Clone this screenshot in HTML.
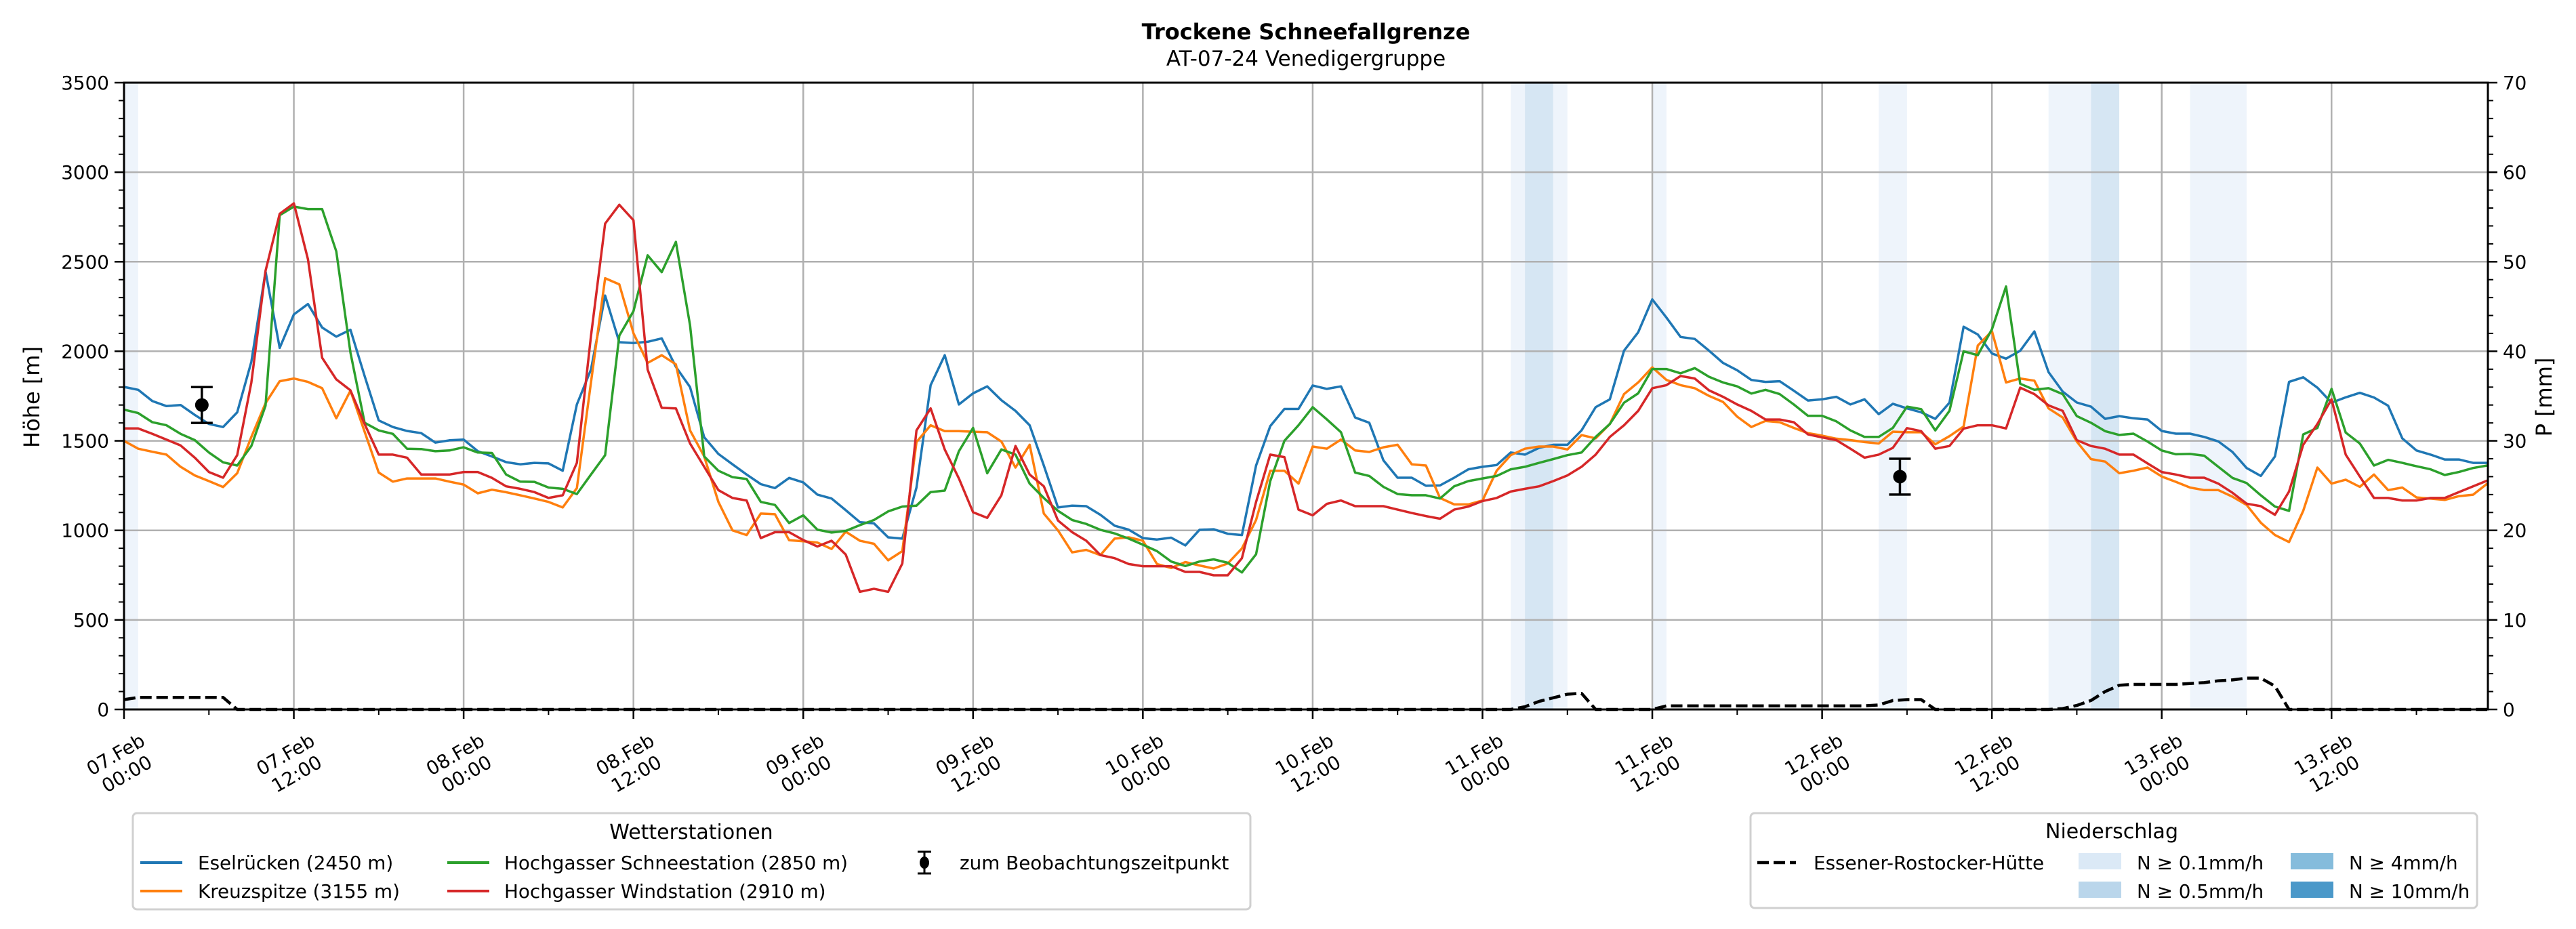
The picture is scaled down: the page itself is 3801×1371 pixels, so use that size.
<!DOCTYPE html>
<html><head><meta charset="utf-8">
<style>
html,body{margin:0;padding:0;background:#fff;}
svg{display:block;font-family:"DejaVu Sans","Liberation Sans",sans-serif;}
</style></head>
<body>
<svg id="chart" xmlns="http://www.w3.org/2000/svg" width="3801" height="1371" viewBox="0 0 3801 1371">
<rect x="0" y="0" width="3801" height="1371" fill="#fff"/>
<text x="1927" y="58" text-anchor="middle" font-weight="bold" font-size="32">Trockene Schneefallgrenze</text>
<text x="1927" y="97" text-anchor="middle" font-size="31">AT-07-24 Venedigergruppe</text>
<g id="bands"></g>
<g id="grid"></g>
<g id="series"></g>
<g id="axes"></g>
<text transform="translate(58,586) rotate(-90)" text-anchor="middle" font-size="32">Höhe [m]</text>
<text transform="translate(3765,586) rotate(-90)" text-anchor="middle" font-size="32">P [mm]</text>

<g>
<rect x="196" y="1200" width="1649" height="142" rx="6" fill="#fff" stroke="#d0d0d0" stroke-width="3"/>
<text x="1020" y="1238" text-anchor="middle" font-size="30">Wetterstationen</text>
<g><line x1="207" y1="1273" x2="269" y2="1273" stroke="#1f77b4" stroke-width="4"/><text x="292" y="1283" font-size="27.8">Eselrücken (2450 m)</text></g>
<g><line x1="207" y1="1315" x2="269" y2="1315" stroke="#ff7f0e" stroke-width="4"/><text x="292" y="1325" font-size="27.8">Kreuzspitze (3155 m)</text></g>
<g><line x1="660" y1="1273" x2="722" y2="1273" stroke="#2ca02c" stroke-width="4"/><text x="744" y="1283" font-size="27.8">Hochgasser Schneestation (2850 m)</text></g>
<g><line x1="660" y1="1315" x2="722" y2="1315" stroke="#d62728" stroke-width="4"/><text x="744" y="1325" font-size="27.8">Hochgasser Windstation (2910 m)</text></g>
<g><line x1="1364" y1="1257" x2="1364" y2="1289" stroke="#000" stroke-width="3"/><line x1="1354" y1="1257" x2="1374" y2="1257" stroke="#000" stroke-width="3"/><line x1="1354" y1="1289" x2="1374" y2="1289" stroke="#000" stroke-width="3"/><ellipse cx="1364" cy="1273" rx="7" ry="9" fill="#000"/><text x="1416" y="1283" font-size="27.8">zum Beobachtungszeitpunkt</text></g>
</g>

<g>
<rect x="2583" y="1200" width="1072" height="140" rx="6" fill="#fff" stroke="#d0d0d0" stroke-width="3"/>
<text x="3116" y="1237" text-anchor="middle" font-size="30">Niederschlag</text>
<g><line x1="2593" y1="1273" x2="2650" y2="1273" stroke="#000" stroke-width="4.5" stroke-dasharray="17,7"/><text x="2676" y="1283" font-size="27.8">Essener-Rostocker-Hütte</text></g>
<g><rect x="3067" y="1259" width="63" height="24" fill="#dbe9f6"/><text x="3153" y="1283" font-size="27.8">N ≥ 0.1mm/h</text></g>
<g><rect x="3067" y="1301" width="63" height="24" fill="#bad6eb"/><text x="3153" y="1325" font-size="27.8">N ≥ 0.5mm/h</text></g>
<g><rect x="3380" y="1259" width="63" height="24" fill="#85bcdc"/><text x="3466" y="1283" font-size="27.8">N ≥ 4mm/h</text></g>
<g><rect x="3380" y="1301" width="63" height="24" fill="#4a98c9"/><text x="3466" y="1325" font-size="27.8">N ≥ 10mm/h</text></g>
</g>
</svg>
<script>
const eselruecken = [1801,1785,1722,1694,1700,1645,1594,1577,1659,1942,2446,2019,2206,2264,2133,2082,2120,1862,1614,1577,1555,1543,1490,1503,1507,1442,1413,1381,1369,1377,1374,1333,1703,1898,2311,2051,2046,2053,2072,1913,1800,1520,
1427,1369,1312,1258,1236,1293,1268,1200,1178,1113,1046,1039,961,954,1239,1811,1978,1703,1765,1804,1727,1667,1587,1362,1128,1138,1135,1087,1026,1004,957,949,959,916,1003,1006,981,974,1362,1582,1678,1678,
1809,1790,1804,1630,1601,1391,1294,1294,1249,1251,1294,1341,1355,1365,1435,1423,1461,1478,1478,1558,1688,1732,2003,2106,2290,2188,2080,2069,2004,1935,1894,1840,1829,1833,1780,1725,1732,1746,1703,1732,1649,1707,
1681,1659,1623,1713,2137,2094,1988,1959,2003,2111,1884,1775,1714,1691,1623,1638,1626,1619,1555,1540,1540,1522,1497,1438,1348,1304,1413,1829,1855,1797,1713,1743,1768,1742,1696,1514,1446,1423,1396,1396,1377,1377];
const kreuzspitze = [1500,1456,1439,1423,1355,1307,1275,1242,1319,1522,1710,1833,1848,1829,1794,1626,1780,1551,1323,1272,1290,1290,1290,1272,1256,1207,1227,1213,1196,1178,1159,1128,1236,1826,2408,2374,2101,1935,1978,1927,1558,1413,
1159,1000,974,1094,1090,945,939,932,896,993,942,925,833,884,1493,1587,1554,1554,1551,1548,1496,1351,1478,1094,1000,877,891,862,954,961,942,812,790,823,804,787,815,899,1058,1333,1333,1261,
1468,1456,1507,1446,1438,1464,1478,1369,1362,1181,1145,1145,1167,1333,1420,1456,1468,1468,1452,1532,1514,1594,1761,1826,1910,1840,1811,1794,1751,1717,1635,1577,1611,1604,1572,1543,1529,1512,1504,1493,1485,1551,
1548,1548,1481,1526,1580,2032,2113,1826,1848,1836,1681,1630,1496,1398,1384,1319,1333,1351,1301,1271,1239,1225,1225,1188,1142,1043,974,935,1109,1351,1261,1283,1243,1312,1225,1239,1184,1177,1170,1191,1199,1261];
const schneestation = [1674,1655,1604,1587,1539,1504,1435,1380,1362,1471,1696,2760,2808,2794,2794,2558,1993,1601,1558,1539,1456,1454,1442,1446,1464,1435,1432,1312,1272,1271,1239,1232,1203,1312,1420,2087,2224,2536,2442,2611,2145,1413,
1333,1297,1287,1159,1142,1041,1084,1004,988,997,1029,1058,1106,1133,1138,1214,1222,1442,1572,1319,1452,1423,1261,1181,1109,1058,1036,1003,983,954,920,884,826,801,826,838,819,765,867,1275,1500,1587,
1688,1620,1548,1323,1304,1243,1203,1196,1196,1178,1246,1275,1290,1304,1341,1355,1377,1398,1420,1435,1522,1594,1713,1765,1901,1901,1877,1906,1858,1826,1804,1764,1785,1761,1703,1640,1640,1609,1558,1522,1522,1572,
1691,1677,1558,1667,2000,1978,2123,2362,1819,1785,1794,1761,1638,1601,1554,1533,1540,1496,1446,1425,1427,1417,1355,1293,1264,1196,1133,1109,1536,1572,1790,1546,1485,1362,1394,1377,1358,1341,1309,1326,1348,1362];
const windstation = [1569,1569,1539,1507,1474,1406,1326,1294,1420,1826,2449,2768,2826,2514,1964,1843,1782,1594,1423,1423,1406,1312,1312,1312,1326,1326,1293,1246,1232,1214,1181,1196,1377,2085,2713,2818,2732,1898,1684,1681,1485,1355,
1225,1181,1167,957,990,990,946,910,942,865,657,674,657,815,1558,1681,1452,1290,1101,1070,1196,1471,1312,1246,1055,990,942,862,845,812,800,800,800,768,768,749,749,845,1159,1423,1409,1116,
1084,1148,1167,1135,1135,1135,1116,1097,1080,1065,1116,1133,1164,1181,1217,1232,1246,1275,1307,1355,1423,1522,1587,1667,1794,1811,1862,1848,1782,1746,1703,1667,1619,1619,1604,1536,1519,1504,1456,1406,1423,1461,
1571,1554,1456,1471,1568,1587,1587,1569,1797,1761,1698,1667,1504,1471,1456,1423,1423,1374,1326,1312,1294,1294,1261,1210,1149,1135,1087,1217,1478,1594,1732,1423,1301,1181,1181,1167,1167,1181,1181,1214,1246,1278];
const precipEssener = [1.1,1.35,1.35,1.35,1.35,1.35,1.35,1.35,0,0,0,0,0,0,0,0,0,0,0,0,0,0,0,0,0,0,0,0,0,0,0,0,0,0,0,0,0,0,0,0,0,0,
0,0,0,0,0,0,0,0,0,0,0,0,0,0,0,0,0,0,0,0,0,0,0,0,0,0,0,0,0,0,0,0,0,0,0,0,0,0,0,0,0,0,
0,0,0,0,0,0,0,0,0,0,0,0,0,0,0,0.3,0.9,1.3,1.7,1.8,0,0,0,0,0,0.4,0.4,0.4,0.4,0.4,0.4,0.4,0.4,0.4,0.4,0.4,0.4,0.4,0.4,0.4,0.5,1.0,
1.1,1.1,0,0,0,0,0,0,0,0,0,0.1,0.45,1.0,2.0,2.7,2.8,2.8,2.8,2.8,2.9,3.0,3.2,3.3,3.5,3.5,2.6,0,0,0,0,0,0,0,0,0,0,0,0,0,0,0];
const obsHours = [5.5, 125.5];
const obsValues = [1700, 1300];
const obsErrors = [100, 100];
const bandStart = [0, 98, 99, 101, 108, 124, 136, 139, 146];
const bandEnd = [1, 99, 101, 102, 109, 126, 139, 141, 150];
const bandLevel = [1, 1, 2, 1, 1, 1, 1, 2, 1];
const yTicks = [0,500,1000,1500,2000,2500,3000,3500];
const y2Ticks = [0,10,20,30,40,50,60,70];
const xTickHours = [0,12,24,36,48,60,72,84,96,108,120,132,144,156];
const xTickDates = ["07.Feb","07.Feb","08.Feb","08.Feb","09.Feb","09.Feb","10.Feb","10.Feb","11.Feb","11.Feb","12.Feb","12.Feb","13.Feb","13.Feb"];
const xTickTimes = ["00:00","12:00","00:00","12:00","00:00","12:00","00:00","12:00","00:00","12:00","00:00","12:00","00:00","12:00"];

const NS = "http://www.w3.org/2000/svg";
const L = 183, R = 3671, T = 122, B = 1047;
const HMAX = 167.05, YMAX = 3500, PMAX = 70;
const xS = h => L + h * (R - L) / HMAX;
const yS = v => B - v * (B - T) / YMAX;
const pS = p => B - p * (B - T) / PMAX;
function mk(tag, attrs, parent) {
  const e = document.createElementNS(NS, tag);
  for (const k in attrs) e.setAttribute(k, attrs[k]);
  parent.appendChild(e);
  return e;
}
const gBands = document.getElementById('bands');
const gGrid = document.getElementById('grid');
const gSer = document.getElementById('series');
const gAx = document.getElementById('axes');

bandStart.forEach((s, i) => {
  const r = mk('rect', {x: xS(s), y: T, width: xS(bandEnd[i]) - xS(s), height: B - T, fill: bandLevel[i] === 2 ? '#d6e6f3' : '#eef4fb'}, gBands);
  
  
});
yTicks.forEach(v => {
  const l = mk('line', {x1: L, x2: R, y1: yS(v), y2: yS(v), stroke: '#b0b0b0', 'stroke-width': 2.5}, gGrid);
  
  
});
xTickHours.forEach(h => {
  const l = mk('line', {x1: xS(h), x2: xS(h), y1: T, y2: B, stroke: '#b0b0b0', 'stroke-width': 2.5}, gGrid);
  
  
});

function linePath(arr, sc) {
  return arr.map((v, i) => (i ? 'L' : 'M') + xS(i).toFixed(1) + ',' + sc(v).toFixed(1)).join(' ');
}
const pLine = mk('path', {d: linePath(precipEssener, pS), fill: 'none', stroke: '#000', 'stroke-width': 4.5, 'stroke-dasharray': '17,7', 'stroke-linejoin': 'round'}, gSer);


const seriesList = [[eselruecken, '#1f77b4', 'line-eselruecken'], [kreuzspitze, '#ff7f0e', 'line-kreuzspitze'], [schneestation, '#2ca02c', 'line-hochgasser-schnee'], [windstation, '#d62728', 'line-hochgasser-wind']];
seriesList.forEach(s => {
  const p = mk('path', {d: linePath(s[0], yS), fill: 'none', stroke: s[1], 'stroke-width': 3.5, 'stroke-linejoin': 'round'}, gSer);
  
  
});
obsHours.forEach((h, i) => {
  const g = mk('g', {}, gSer);
  
  
  const x = xS(h), y0 = yS(obsValues[i] - obsErrors[i]), y1 = yS(obsValues[i] + obsErrors[i]);
  mk('line', {x1: x, x2: x, y1: y0, y2: y1, stroke: '#000', 'stroke-width': 3.5}, g);
  mk('line', {x1: x - 16, x2: x + 16, y1: y0, y2: y0, stroke: '#000', 'stroke-width': 3.5}, g);
  mk('line', {x1: x - 16, x2: x + 16, y1: y1, y2: y1, stroke: '#000', 'stroke-width': 3.5}, g);
  mk('circle', {cx: x, cy: yS(obsValues[i]), r: 10, fill: '#000'}, g);
});

// ticks
for (let v = 0; v <= YMAX; v += 100) {
  const maj = v % 500 === 0;
  const t = mk('line', {x1: L, x2: L - (maj ? 14 : 8), y1: yS(v), y2: yS(v), stroke: '#000', 'stroke-width': maj ? 2.5 : 2}, gAx);
  
  
}
for (let p = 0; p <= PMAX; p += 2) {
  const maj = p % 10 === 0;
  const t = mk('line', {x1: R, x2: R + (maj ? 14 : 8), y1: pS(p), y2: pS(p), stroke: '#000', 'stroke-width': maj ? 2.5 : 2}, gAx);
  
  
}
for (let h = 0; h <= 162; h += 6) {
  const maj = h % 12 === 0;
  const t = mk('line', {x1: xS(h), x2: xS(h), y1: B, y2: B + (maj ? 14 : 8), stroke: '#000', 'stroke-width': maj ? 2.5 : 2}, gAx);
  
  
}
yTicks.forEach(v => {
  const t = mk('text', {x: L - 22, y: yS(v) + 10, 'text-anchor': 'end', 'font-size': 27.8}, gAx);
  t.textContent = v;
  
  
});
y2Ticks.forEach(p => {
  const t = mk('text', {x: R + 22, y: pS(p) + 10, 'text-anchor': 'start', 'font-size': 27.8}, gAx);
  t.textContent = p;
  
  
});
xTickHours.forEach((h, i) => {
  const t = mk('text', {transform: 'translate(' + (xS(h) - 4) + ',1128) rotate(-30)', 'text-anchor': 'middle', 'font-size': 27.8}, gAx);
  
  
  const a = mk('tspan', {x: 0, y: -7}, t); a.textContent = xTickDates[i];
  const b = mk('tspan', {x: 0, y: 26}, t); b.textContent = xTickTimes[i];
});
const frame = mk('rect', {x: L, y: T, width: R - L, height: B - T, fill: 'none', stroke: '#000', 'stroke-width': 3}, gAx);


</script>
</body></html>
